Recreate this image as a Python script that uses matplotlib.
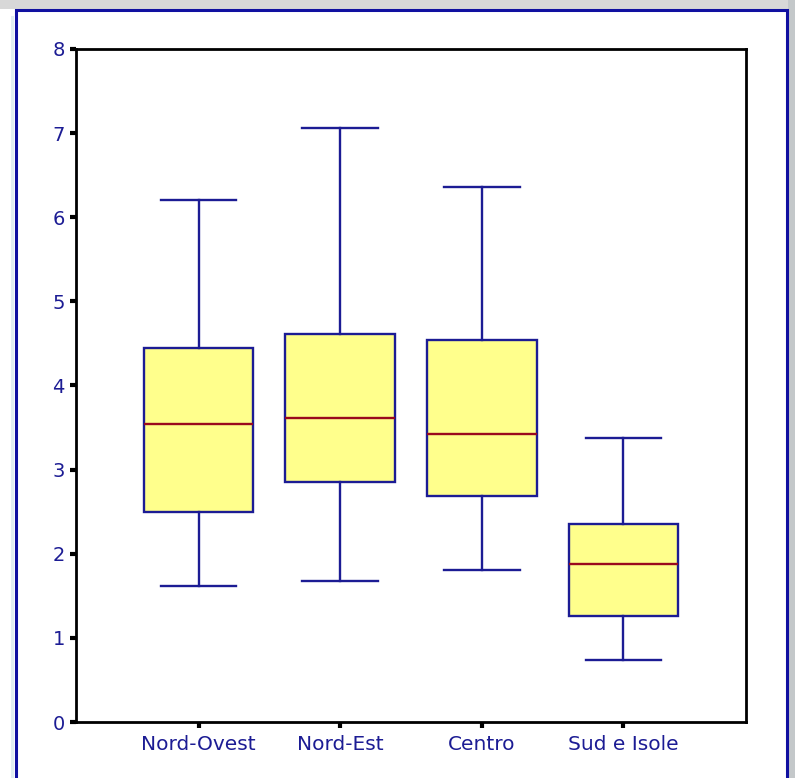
import matplotlib.pyplot as plt
from matplotlib.patches import Rectangle

# data
regioni = ["Nord-Ovest", "Nord-Est", "Centro", "Sud e Isole"]
whisk_lo = [1.62, 1.68, 1.81, 0.74]
q1 = [2.50, 2.85, 2.69, 1.26]
mediana = [3.54, 3.61, 3.42, 1.88]
q3 = [4.45, 4.61, 4.54, 2.35]
whisk_hi = [6.21, 7.06, 6.36, 3.38]

navy = "#1c1c94"

stats = []
for i, nome in enumerate(regioni):
    stats.append({"label": nome, "whislo": whisk_lo[i], "q1": q1[i],
                  "med": mediana[i], "q3": q3[i], "whishi": whisk_hi[i],
                  "fliers": []})

fig = plt.figure(figsize=(7.95, 7.78), dpi=100, facecolor="white")

# outer frame like the original slide
fig.patches.append(Rectangle((0.0, 0.989), 1.0, 0.011, transform=fig.transFigure,
                             facecolor="#d8d8d8", edgecolor="none", zorder=0))
fig.patches.append(Rectangle((0.991, 0.0), 0.009, 1.0, transform=fig.transFigure,
                             facecolor="#c4c8ca", edgecolor="none", zorder=0))
fig.patches.append(Rectangle((0.014, 0.0), 0.004, 0.98, transform=fig.transFigure,
                             facecolor="#e2eef2", edgecolor="none", zorder=0))
fig.patches.append(Rectangle((0.02, -0.01), 0.97, 0.997, transform=fig.transFigure,
                             facecolor="white", edgecolor="#1010a0", lw=2.2, zorder=1))

ax = fig.add_axes([76 / 795, 56 / 778, 670 / 795, 673 / 778])
ax.set_zorder(2)
ax.bxp(stats, positions=[1, 2, 3, 4], widths=0.775, capwidths=0.535,
       showfliers=False, patch_artist=True,
       boxprops=dict(facecolor="#ffff8c", edgecolor=navy, linewidth=1.7),
       whiskerprops=dict(color=navy, linewidth=1.7),
       capprops=dict(color=navy, linewidth=1.7),
       medianprops=dict(color="#9a0a1e", linewidth=1.7))

ax.set_xlim(0.134, 4.866)
ax.set_ylim(0, 8)
ax.set_yticks(range(0, 9))
for s in ax.spines.values():
    s.set_linewidth(2)
    s.set_color("black")
ax.tick_params(axis="both", length=4, width=3, color="black",
               labelcolor=navy, pad=4)
ax.tick_params(axis="y", labelsize=14)
ax.tick_params(axis="x", labelsize=14.5, pad=5)
ax.set_xticklabels(regioni)
for t in ax.get_xticklabels():
    t.set_fontstretch("expanded")

plt.savefig("out.png", dpi=100)
